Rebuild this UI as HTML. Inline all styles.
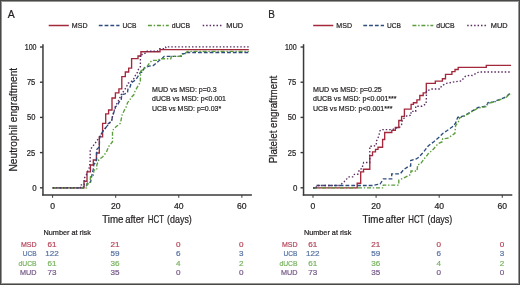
<!DOCTYPE html>
<html><head><meta charset="utf-8"><style>
html,body{margin:0;padding:0;background:#fff;}
body{width:520px;height:285px;overflow:hidden;position:relative;}
svg{position:absolute;left:0;top:0;will-change:transform;font-family:"Liberation Sans",sans-serif;}
text{stroke-width:0.22px;paint-order:stroke;}
.frame{position:absolute;left:0;top:0;width:520px;height:285px;box-shadow:inset 0 0 0 1px #494947,inset 0 0 0 2px #979795;}
</style></head><body>
<svg width="520" height="285" viewBox="0 0 520 285">
<rect width="520" height="285" fill="#fff"/>
<line x1="42.95" y1="44.2" x2="42.95" y2="195.6" stroke="#3a3a3a" stroke-width="1.5"/>
<line x1="42.2" y1="194.9" x2="251.9" y2="194.9" stroke="#3a3a3a" stroke-width="1.5"/>
<line x1="39.95" y1="187.8" x2="42.95" y2="187.8" stroke="#3a3a3a" stroke-width="1.4"/>
<line x1="39.95" y1="152.60500000000002" x2="42.95" y2="152.60500000000002" stroke="#3a3a3a" stroke-width="1.4"/>
<line x1="39.95" y1="117.41000000000001" x2="42.95" y2="117.41000000000001" stroke="#3a3a3a" stroke-width="1.4"/>
<line x1="39.95" y1="82.21500000000002" x2="42.95" y2="82.21500000000002" stroke="#3a3a3a" stroke-width="1.4"/>
<line x1="39.95" y1="47.02000000000001" x2="42.95" y2="47.02000000000001" stroke="#3a3a3a" stroke-width="1.4"/>
<line x1="52.6" y1="195" x2="52.6" y2="197.8" stroke="#3a3a3a" stroke-width="1.0"/>
<line x1="115.69" y1="195" x2="115.69" y2="197.8" stroke="#3a3a3a" stroke-width="1.0"/>
<line x1="178.78" y1="195" x2="178.78" y2="197.8" stroke="#3a3a3a" stroke-width="1.0"/>
<line x1="241.87" y1="195" x2="241.87" y2="197.8" stroke="#3a3a3a" stroke-width="1.0"/>
<path d="M48.70,25.50 L68.80,25.50" fill="none" stroke="#a3283c" stroke-width="1.5" stroke-linecap="butt" stroke-linejoin="miter"/>
<text x="71.8" y="28.4" font-size="7.8" fill="#231f20" stroke="#231f20" textLength="15.7" lengthAdjust="spacingAndGlyphs">MSD</text>
<path d="M98.80,25.50 L119.50,25.50" fill="none" stroke="#2e4d7e" stroke-width="1.5" stroke-dasharray="3.8 2" stroke-linecap="butt" stroke-linejoin="miter"/>
<text x="122.5" y="28.4" font-size="7.8" fill="#231f20" stroke="#231f20" textLength="14.0" lengthAdjust="spacingAndGlyphs">UCB</text>
<path d="M147.90,25.50 L168.80,25.50" fill="none" stroke="#5b9c3b" stroke-width="1.5" stroke-dasharray="4 1.8 1.4 1.8" stroke-linecap="butt" stroke-linejoin="miter"/>
<text x="171.79999999999998" y="28.4" font-size="7.8" fill="#231f20" stroke="#231f20" textLength="18.4" lengthAdjust="spacingAndGlyphs">dUCB</text>
<path d="M202.70,25.50 L221.70,25.50" fill="none" stroke="#5b2b62" stroke-width="1.5" stroke-dasharray="1.5 1.95" stroke-linecap="butt" stroke-linejoin="miter"/>
<text x="226.29999999999998" y="28.4" font-size="7.8" fill="#231f20" stroke="#231f20" textLength="16.8" lengthAdjust="spacingAndGlyphs">MUD</text>
<text x="34.5" y="190.8" font-size="8.4" fill="#231f20" stroke="#231f20" text-anchor="middle" textLength="4.4" lengthAdjust="spacingAndGlyphs" stroke-width="0.08">0</text>
<text x="31.05" y="155.61" font-size="8.4" fill="#231f20" stroke="#231f20" text-anchor="middle" textLength="8.4" lengthAdjust="spacingAndGlyphs" stroke-width="0.08">25</text>
<text x="31.2" y="120.41" font-size="8.4" fill="#231f20" stroke="#231f20" text-anchor="middle" textLength="8.4" lengthAdjust="spacingAndGlyphs" stroke-width="0.08">50</text>
<text x="31.1" y="85.22" font-size="8.4" fill="#231f20" stroke="#231f20" text-anchor="middle" textLength="8.4" lengthAdjust="spacingAndGlyphs" stroke-width="0.08">75</text>
<text x="30.65" y="50.02" font-size="8.4" fill="#231f20" stroke="#231f20" text-anchor="middle" textLength="11.8" lengthAdjust="spacingAndGlyphs" stroke-width="0.08">100</text>
<text x="52.6" y="208.8" font-size="8.6" fill="#231f20" stroke="#231f20" text-anchor="middle" stroke-width="0.08">0</text>
<text x="115.69" y="208.8" font-size="8.6" fill="#231f20" stroke="#231f20" text-anchor="middle" stroke-width="0.08">20</text>
<text x="178.78" y="208.8" font-size="8.6" fill="#231f20" stroke="#231f20" text-anchor="middle" stroke-width="0.08">40</text>
<text x="241.87" y="208.8" font-size="8.6" fill="#231f20" stroke="#231f20" text-anchor="middle" stroke-width="0.08">60</text>
<text x="102.15" y="223.0" font-size="10.6" fill="#231f20" stroke="#231f20" textLength="21.3" lengthAdjust="spacingAndGlyphs">Time</text>
<text x="125.15" y="223.0" font-size="10.6" fill="#231f20" stroke="#231f20" textLength="19.1" lengthAdjust="spacingAndGlyphs">after</text>
<text x="147.85" y="223.0" font-size="10.6" fill="#231f20" stroke="#231f20" textLength="16.1" lengthAdjust="spacingAndGlyphs">HCT</text>
<text x="167.05" y="223.0" font-size="10.6" fill="#231f20" stroke="#231f20" textLength="24.8" lengthAdjust="spacingAndGlyphs">(days)</text>
<path d="M52.60,187.80 L84.00,187.80 L84.00,181.20 L87.00,181.20 L87.00,171.80 L90.40,171.80 L90.40,165.00 L93.30,165.00 L93.30,160.00 L96.40,160.00 L96.40,153.00 L99.30,153.00 L99.30,136.80 L102.60,136.80 L102.60,123.40 L105.70,123.40 L105.70,113.90 L108.60,113.90 L108.60,110.00 L112.00,110.00 L112.00,98.00 L115.40,98.00 L115.40,92.90 L118.90,92.90 L118.90,88.80 L121.80,88.80 L121.80,76.60 L125.30,76.60 L125.30,72.00 L128.70,72.00 L128.70,68.10 L131.60,68.10 L131.60,58.60 L138.00,58.60 L138.00,56.00 L140.90,56.00 L140.90,51.70 L160.00,51.70 L160.00,49.60 L248.80,49.60" fill="none" stroke="#a3283c" stroke-width="1.35" stroke-linecap="butt" stroke-linejoin="miter"/>
<path d="M52.60,187.80 L83.50,187.80 L83.50,186.80 L86.30,186.20 L87.70,182.40 L90.50,182.40 L91.90,175.40 L93.30,169.10 L93.80,164.70 L95.50,162.50 L96.60,159.70 L96.70,149.60 L99.30,147.00 L99.60,137.40 L102.90,131.20 L106.40,126.80 L108.20,123.70 L111.70,120.70 L112.50,116.30 L115.20,108.40 L115.40,107.00 L118.50,103.80 L118.50,102.70 L121.20,100.10 L121.70,94.80 L124.80,93.80 L127.50,92.70 L128.00,88.50 L130.10,87.00 L131.20,82.70 L133.80,81.20 L135.90,79.60 L137.00,78.00 L140.30,72.50 L142.70,71.90 L144.30,67.70 L149.00,66.10 L153.30,65.60 L156.40,62.90 L159.60,60.30 L162.30,58.20 L164.20,56.30 L181.20,56.30 L181.60,53.60 L185.10,53.60 L185.10,52.50 L248.80,52.50" fill="none" stroke="#2e4d7e" stroke-width="1.35" stroke-dasharray="3.8 2" stroke-linecap="butt" stroke-linejoin="miter"/>
<path d="M52.60,187.80 L86.60,187.80 L87.00,183.80 L90.00,183.80 L90.50,176.80 L93.30,175.40 L94.00,169.80 L96.80,169.80 L96.80,164.90 L98.90,159.70 L101.10,158.00 L102.80,156.70 L106.30,152.30 L109.00,146.00 L112.50,141.80 L112.50,130.40 L116.00,126.80 L120.40,123.30 L122.20,114.60 L124.80,109.30 L126.40,106.40 L127.50,102.70 L129.60,100.10 L131.70,97.00 L133.80,94.80 L134.80,91.70 L138.00,85.90 L139.60,83.30 L140.30,81.00 L140.60,71.40 L143.80,68.70 L147.00,66.60 L149.60,62.90 L152.20,60.30 L158.50,60.30 L159.60,58.70 L170.80,58.70 L171.40,56.30 L180.00,56.30 L180.60,55.30 L183.00,54.50 L185.50,52.80 L187.80,51.40 L248.80,51.40" fill="none" stroke="#5b9c3b" stroke-width="1.35" stroke-dasharray="4 1.8 1.4 1.8" stroke-linecap="butt" stroke-linejoin="miter"/>
<path d="M52.60,187.80 L80.60,187.80 L80.60,184.80 L84.20,184.80 L84.20,178.20 L86.00,175.70 L87.60,171.50 L89.00,168.50 L89.90,164.20 L90.20,160.20 L90.20,149.60 L93.00,146.00 L96.00,142.00 L99.30,137.40 L102.90,131.20 L106.40,126.80 L111.70,120.70 L112.50,116.30 L115.40,106.40 L118.50,100.60 L121.70,93.80 L124.80,89.60 L126.40,87.00 L128.00,83.30 L130.60,82.20 L133.30,79.60 L136.30,73.70 L137.50,72.40 L138.50,69.30 L140.40,66.60 L140.40,54.50 L143.80,54.50 L145.90,52.40 L146.50,51.20 L157.50,51.20 L159.60,48.70 L163.00,48.60 L165.80,48.60 L165.80,46.90 L248.80,46.90" fill="none" stroke="#5b2b62" stroke-width="1.35" stroke-dasharray="1.5 1.95" stroke-linecap="butt" stroke-linejoin="miter"/>
<text x="152.1" y="92.0" font-size="7.9" fill="#231f20" stroke="#231f20" textLength="64.6" lengthAdjust="spacingAndGlyphs">MUD vs MSD: p=0.3</text>
<text x="152.1" y="101.3" font-size="7.9" fill="#231f20" stroke="#231f20" textLength="73.9" lengthAdjust="spacingAndGlyphs">dUCB vs MSD: p&lt;0.001</text>
<text x="152.1" y="110.6" font-size="7.9" fill="#231f20" stroke="#231f20" textLength="69.0" lengthAdjust="spacingAndGlyphs">UCB vs MSD: p=0.03*</text>
<text x="43.5" y="235.0" font-size="7.8" fill="#231f20" stroke="#231f20" textLength="47.4" lengthAdjust="spacingAndGlyphs">Number at risk</text>
<text x="36.6" y="246.95" font-size="7.9" fill="#b5465a" stroke="#b5465a" text-anchor="end" textLength="15.6" lengthAdjust="spacingAndGlyphs" stroke-width="0.1">MSD</text>
<text x="52.0" y="246.95" font-size="8.1" fill="#b5465a" stroke="#b5465a" text-anchor="middle" stroke-width="0.1">61</text>
<text x="115.09" y="246.95" font-size="8.1" fill="#b5465a" stroke="#b5465a" text-anchor="middle" stroke-width="0.1">21</text>
<text x="178.18" y="246.95" font-size="8.1" fill="#b5465a" stroke="#b5465a" text-anchor="middle" stroke-width="0.1">0</text>
<text x="241.27" y="246.95" font-size="8.1" fill="#b5465a" stroke="#b5465a" text-anchor="middle" stroke-width="0.1">0</text>
<text x="36.6" y="256.37" font-size="7.9" fill="#5773a3" stroke="#5773a3" text-anchor="end" textLength="13.9" lengthAdjust="spacingAndGlyphs" stroke-width="0.1">UCB</text>
<text x="52.0" y="256.37" font-size="8.1" fill="#5773a3" stroke="#5773a3" text-anchor="middle" stroke-width="0.1">122</text>
<text x="115.09" y="256.37" font-size="8.1" fill="#5773a3" stroke="#5773a3" text-anchor="middle" stroke-width="0.1">59</text>
<text x="178.18" y="256.37" font-size="8.1" fill="#5773a3" stroke="#5773a3" text-anchor="middle" stroke-width="0.1">6</text>
<text x="241.27" y="256.37" font-size="8.1" fill="#5773a3" stroke="#5773a3" text-anchor="middle" stroke-width="0.1">3</text>
<text x="36.6" y="265.79" font-size="7.9" fill="#78b45f" stroke="#78b45f" text-anchor="end" textLength="18.1" lengthAdjust="spacingAndGlyphs" stroke-width="0.1">dUCB</text>
<text x="52.0" y="265.79" font-size="8.1" fill="#78b45f" stroke="#78b45f" text-anchor="middle" stroke-width="0.1">61</text>
<text x="115.09" y="265.79" font-size="8.1" fill="#78b45f" stroke="#78b45f" text-anchor="middle" stroke-width="0.1">36</text>
<text x="178.18" y="265.79" font-size="8.1" fill="#78b45f" stroke="#78b45f" text-anchor="middle" stroke-width="0.1">4</text>
<text x="241.27" y="265.79" font-size="8.1" fill="#78b45f" stroke="#78b45f" text-anchor="middle" stroke-width="0.1">2</text>
<text x="36.6" y="275.21" font-size="7.9" fill="#765a88" stroke="#765a88" text-anchor="end" textLength="16.5" lengthAdjust="spacingAndGlyphs" stroke-width="0.1">MUD</text>
<text x="52.0" y="275.21" font-size="8.1" fill="#765a88" stroke="#765a88" text-anchor="middle" stroke-width="0.1">73</text>
<text x="115.09" y="275.21" font-size="8.1" fill="#765a88" stroke="#765a88" text-anchor="middle" stroke-width="0.1">35</text>
<text x="178.18" y="275.21" font-size="8.1" fill="#765a88" stroke="#765a88" text-anchor="middle" stroke-width="0.1">0</text>
<text x="241.27" y="275.21" font-size="8.1" fill="#765a88" stroke="#765a88" text-anchor="middle" stroke-width="0.1">0</text>
<line x1="303.55" y1="44.2" x2="303.55" y2="195.6" stroke="#3a3a3a" stroke-width="1.5"/>
<line x1="302.8" y1="194.9" x2="512.3" y2="194.9" stroke="#3a3a3a" stroke-width="1.5"/>
<line x1="300.55" y1="187.8" x2="303.55" y2="187.8" stroke="#3a3a3a" stroke-width="1.4"/>
<line x1="300.55" y1="152.60500000000002" x2="303.55" y2="152.60500000000002" stroke="#3a3a3a" stroke-width="1.4"/>
<line x1="300.55" y1="117.41000000000001" x2="303.55" y2="117.41000000000001" stroke="#3a3a3a" stroke-width="1.4"/>
<line x1="300.55" y1="82.21500000000002" x2="303.55" y2="82.21500000000002" stroke="#3a3a3a" stroke-width="1.4"/>
<line x1="300.55" y1="47.02000000000001" x2="303.55" y2="47.02000000000001" stroke="#3a3a3a" stroke-width="1.4"/>
<line x1="313.0" y1="195" x2="313.0" y2="197.8" stroke="#3a3a3a" stroke-width="1.0"/>
<line x1="376.09000000000003" y1="195" x2="376.09000000000003" y2="197.8" stroke="#3a3a3a" stroke-width="1.0"/>
<line x1="439.18" y1="195" x2="439.18" y2="197.8" stroke="#3a3a3a" stroke-width="1.0"/>
<line x1="502.27" y1="195" x2="502.27" y2="197.8" stroke="#3a3a3a" stroke-width="1.0"/>
<path d="M313.20,25.50 L333.30,25.50" fill="none" stroke="#a3283c" stroke-width="1.5" stroke-linecap="butt" stroke-linejoin="miter"/>
<text x="336.3" y="28.4" font-size="7.8" fill="#231f20" stroke="#231f20" textLength="15.7" lengthAdjust="spacingAndGlyphs">MSD</text>
<path d="M363.30,25.50 L384.00,25.50" fill="none" stroke="#2e4d7e" stroke-width="1.5" stroke-dasharray="3.8 2" stroke-linecap="butt" stroke-linejoin="miter"/>
<text x="387.0" y="28.4" font-size="7.8" fill="#231f20" stroke="#231f20" textLength="14.0" lengthAdjust="spacingAndGlyphs">UCB</text>
<path d="M412.40,25.50 L433.30,25.50" fill="none" stroke="#5b9c3b" stroke-width="1.5" stroke-dasharray="4 1.8 1.4 1.8" stroke-linecap="butt" stroke-linejoin="miter"/>
<text x="436.3" y="28.4" font-size="7.8" fill="#231f20" stroke="#231f20" textLength="18.4" lengthAdjust="spacingAndGlyphs">dUCB</text>
<path d="M467.20,25.50 L486.20,25.50" fill="none" stroke="#5b2b62" stroke-width="1.5" stroke-dasharray="1.5 1.95" stroke-linecap="butt" stroke-linejoin="miter"/>
<text x="490.8" y="28.4" font-size="7.8" fill="#231f20" stroke="#231f20" textLength="16.8" lengthAdjust="spacingAndGlyphs">MUD</text>
<text x="295.1" y="190.8" font-size="8.4" fill="#231f20" stroke="#231f20" text-anchor="middle" textLength="4.4" lengthAdjust="spacingAndGlyphs" stroke-width="0.08">0</text>
<text x="291.9" y="155.61" font-size="8.4" fill="#231f20" stroke="#231f20" text-anchor="middle" textLength="8.4" lengthAdjust="spacingAndGlyphs" stroke-width="0.08">25</text>
<text x="291.9" y="120.41" font-size="8.4" fill="#231f20" stroke="#231f20" text-anchor="middle" textLength="8.4" lengthAdjust="spacingAndGlyphs" stroke-width="0.08">50</text>
<text x="291.9" y="85.22" font-size="8.4" fill="#231f20" stroke="#231f20" text-anchor="middle" textLength="8.4" lengthAdjust="spacingAndGlyphs" stroke-width="0.08">75</text>
<text x="290.8" y="50.02" font-size="8.4" fill="#231f20" stroke="#231f20" text-anchor="middle" textLength="11.8" lengthAdjust="spacingAndGlyphs" stroke-width="0.08">100</text>
<text x="313.0" y="208.8" font-size="8.6" fill="#231f20" stroke="#231f20" text-anchor="middle" stroke-width="0.08">0</text>
<text x="376.09" y="208.8" font-size="8.6" fill="#231f20" stroke="#231f20" text-anchor="middle" stroke-width="0.08">20</text>
<text x="439.18" y="208.8" font-size="8.6" fill="#231f20" stroke="#231f20" text-anchor="middle" stroke-width="0.08">40</text>
<text x="502.27" y="208.8" font-size="8.6" fill="#231f20" stroke="#231f20" text-anchor="middle" stroke-width="0.08">60</text>
<text x="362.55" y="223.0" font-size="10.6" fill="#231f20" stroke="#231f20" textLength="21.3" lengthAdjust="spacingAndGlyphs">Time</text>
<text x="385.55" y="223.0" font-size="10.6" fill="#231f20" stroke="#231f20" textLength="19.1" lengthAdjust="spacingAndGlyphs">after</text>
<text x="408.25" y="223.0" font-size="10.6" fill="#231f20" stroke="#231f20" textLength="16.1" lengthAdjust="spacingAndGlyphs">HCT</text>
<text x="427.45" y="223.0" font-size="10.6" fill="#231f20" stroke="#231f20" textLength="24.8" lengthAdjust="spacingAndGlyphs">(days)</text>
<path d="M313.00,187.80 L357.20,187.80 L357.20,183.20 L360.70,183.20 L360.70,171.80 L363.60,171.80 L363.40,169.20 L369.80,169.20 L369.80,155.60 L372.50,155.60 L372.50,151.80 L375.50,151.80 L375.50,149.30 L378.00,149.30 L378.00,147.20 L382.60,147.20 L382.60,139.50 L384.70,139.50 L384.70,132.50 L391.80,132.50 L391.80,130.40 L395.30,130.40 L395.30,127.50 L398.80,127.50 L398.80,120.50 L401.60,120.50 L401.60,116.30 L404.40,116.30 L404.40,109.10 L411.10,109.10 L411.10,104.40 L413.40,104.40 L413.40,102.70 L416.90,102.70 L416.90,99.80 L419.80,99.80 L419.80,95.50 L423.20,95.50 L423.20,92.90 L426.30,92.90 L426.30,83.40 L435.30,83.40 L435.30,81.10 L442.40,81.10 L442.40,78.70 L445.50,78.70 L445.50,74.30 L451.90,74.30 L451.90,71.60 L455.00,71.60 L455.00,69.50 L458.20,69.50 L458.20,67.30 L486.30,67.30 L486.30,65.30 L511.10,65.30" fill="none" stroke="#a3283c" stroke-width="1.35" stroke-linecap="butt" stroke-linejoin="miter"/>
<path d="M313.00,187.80 L316.30,187.80 L316.30,185.50 L373.30,185.50 L377.70,184.40 L380.00,184.40 L383.30,178.80 L391.70,178.80 L391.70,173.80 L400.20,173.80 L403.70,169.60 L407.90,166.80 L410.70,166.00 L410.70,160.50 L416.30,159.00 L419.00,157.00 L424.00,151.50 L428.20,146.00 L433.80,141.70 L439.50,136.80 L443.00,133.30 L447.20,130.50 L452.10,127.00 L455.50,123.30 L457.70,117.30 L464.00,115.90 L471.10,111.70 L478.10,107.50 L486.50,106.10 L488.00,102.60 L493.50,101.90 L500.60,99.00 L506.20,96.90 L509.00,94.10 L511.10,93.80" fill="none" stroke="#2e4d7e" stroke-width="1.35" stroke-dasharray="3.8 2" stroke-linecap="butt" stroke-linejoin="miter"/>
<path d="M313.00,187.80 L383.30,187.80 L383.30,185.10 L398.80,185.10 L398.80,180.20 L403.70,178.00 L410.70,174.50 L411.00,171.00 L417.00,171.00 L417.70,164.70 L420.50,164.00 L424.00,159.10 L427.50,154.90 L428.20,153.70 L432.40,150.20 L438.00,143.80 L442.30,141.70 L442.60,138.80 L447.90,138.20 L454.90,133.30 L455.60,125.60 L459.10,120.70 L459.50,117.80 L464.00,116.40 L471.10,112.20 L478.10,108.00 L486.50,106.60 L488.00,103.10 L493.50,102.40 L500.60,99.50 L506.20,97.40 L509.00,94.60 L511.10,94.30" fill="none" stroke="#5b9c3b" stroke-width="1.35" stroke-dasharray="4 1.8 1.4 1.8" stroke-linecap="butt" stroke-linejoin="miter"/>
<path d="M313.00,187.80 L316.30,187.80 L316.30,185.50 L339.80,185.50 L342.00,183.50 L344.40,181.40 L346.60,179.10 L348.10,176.90 L353.40,176.80 L354.40,174.30 L357.80,174.30 L359.50,169.40 L362.30,168.40 L362.70,165.50 L363.70,162.50 L369.80,162.50 L369.80,146.20 L373.70,146.20 L376.30,145.20 L376.30,141.00 L377.50,139.50 L379.10,134.60 L379.80,131.00 L381.20,129.60 L392.50,129.60 L395.30,128.20 L399.50,127.50 L401.60,124.70 L401.60,121.90 L403.70,118.40 L407.20,115.60 L411.00,115.40 L411.00,111.40 L415.70,111.40 L415.70,106.20 L422.10,106.20 L426.10,103.80 L426.40,96.90 L426.40,91.00 L432.10,89.00 L440.00,89.00 L441.60,85.80 L446.30,83.40 L454.20,81.90 L461.30,81.00 L465.30,76.30 L470.00,75.20 L472.40,75.50 L478.70,72.00 L511.10,72.00" fill="none" stroke="#5b2b62" stroke-width="1.35" stroke-dasharray="1.5 1.95" stroke-linecap="butt" stroke-linejoin="miter"/>
<text x="313.0" y="92.0" font-size="7.9" fill="#231f20" stroke="#231f20" textLength="68.8" lengthAdjust="spacingAndGlyphs">MUD vs MSD: p=0.25</text>
<text x="313.0" y="101.3" font-size="7.9" fill="#231f20" stroke="#231f20" textLength="83.6" lengthAdjust="spacingAndGlyphs">dUCB vs MSD: p&lt;0.001***</text>
<text x="313.0" y="110.6" font-size="7.9" fill="#231f20" stroke="#231f20" textLength="79.4" lengthAdjust="spacingAndGlyphs">UCB vs MSD: p&lt;0.001***</text>
<text x="303.9" y="235.0" font-size="7.8" fill="#231f20" stroke="#231f20" textLength="47.4" lengthAdjust="spacingAndGlyphs">Number at risk</text>
<text x="297.5" y="246.95" font-size="7.9" fill="#b5465a" stroke="#b5465a" text-anchor="end" textLength="15.6" lengthAdjust="spacingAndGlyphs" stroke-width="0.1">MSD</text>
<text x="312.7" y="246.95" font-size="8.1" fill="#b5465a" stroke="#b5465a" text-anchor="middle" stroke-width="0.1">61</text>
<text x="375.79" y="246.95" font-size="8.1" fill="#b5465a" stroke="#b5465a" text-anchor="middle" stroke-width="0.1">21</text>
<text x="438.88" y="246.95" font-size="8.1" fill="#b5465a" stroke="#b5465a" text-anchor="middle" stroke-width="0.1">0</text>
<text x="501.97" y="246.95" font-size="8.1" fill="#b5465a" stroke="#b5465a" text-anchor="middle" stroke-width="0.1">0</text>
<text x="297.5" y="256.37" font-size="7.9" fill="#5773a3" stroke="#5773a3" text-anchor="end" textLength="13.9" lengthAdjust="spacingAndGlyphs" stroke-width="0.1">UCB</text>
<text x="312.7" y="256.37" font-size="8.1" fill="#5773a3" stroke="#5773a3" text-anchor="middle" stroke-width="0.1">122</text>
<text x="375.79" y="256.37" font-size="8.1" fill="#5773a3" stroke="#5773a3" text-anchor="middle" stroke-width="0.1">59</text>
<text x="438.88" y="256.37" font-size="8.1" fill="#5773a3" stroke="#5773a3" text-anchor="middle" stroke-width="0.1">6</text>
<text x="501.97" y="256.37" font-size="8.1" fill="#5773a3" stroke="#5773a3" text-anchor="middle" stroke-width="0.1">3</text>
<text x="297.5" y="265.79" font-size="7.9" fill="#78b45f" stroke="#78b45f" text-anchor="end" textLength="18.1" lengthAdjust="spacingAndGlyphs" stroke-width="0.1">dUCB</text>
<text x="312.7" y="265.79" font-size="8.1" fill="#78b45f" stroke="#78b45f" text-anchor="middle" stroke-width="0.1">61</text>
<text x="375.79" y="265.79" font-size="8.1" fill="#78b45f" stroke="#78b45f" text-anchor="middle" stroke-width="0.1">36</text>
<text x="438.88" y="265.79" font-size="8.1" fill="#78b45f" stroke="#78b45f" text-anchor="middle" stroke-width="0.1">4</text>
<text x="501.97" y="265.79" font-size="8.1" fill="#78b45f" stroke="#78b45f" text-anchor="middle" stroke-width="0.1">2</text>
<text x="297.5" y="275.21" font-size="7.9" fill="#765a88" stroke="#765a88" text-anchor="end" textLength="16.5" lengthAdjust="spacingAndGlyphs" stroke-width="0.1">MUD</text>
<text x="312.7" y="275.21" font-size="8.1" fill="#765a88" stroke="#765a88" text-anchor="middle" stroke-width="0.1">73</text>
<text x="375.79" y="275.21" font-size="8.1" fill="#765a88" stroke="#765a88" text-anchor="middle" stroke-width="0.1">35</text>
<text x="438.88" y="275.21" font-size="8.1" fill="#765a88" stroke="#765a88" text-anchor="middle" stroke-width="0.1">0</text>
<text x="501.97" y="275.21" font-size="8.1" fill="#765a88" stroke="#765a88" text-anchor="middle" stroke-width="0.1">0</text>
<text x="7.8" y="17.8" font-size="10.8" fill="#231f20" stroke="#231f20" textLength="7.0" lengthAdjust="spacingAndGlyphs" stroke-width="0">A</text>
<text x="268.2" y="17.9" font-size="10.8" fill="#231f20" stroke="#231f20" textLength="6.6" lengthAdjust="spacingAndGlyphs" stroke-width="0">B</text>
<text transform="translate(16.9,119.7) rotate(-90)" font-size="10.6" fill="#231f20" stroke="#231f20" text-anchor="middle" textLength="103.8" lengthAdjust="spacingAndGlyphs">Neutrophil engraftment</text>
<text transform="translate(276.9,119.5) rotate(-90)" font-size="10.6" fill="#231f20" stroke="#231f20" text-anchor="middle" textLength="87.6" lengthAdjust="spacingAndGlyphs">Platelet engraftment</text>
</svg>
<div class="frame"></div>
</body></html>
